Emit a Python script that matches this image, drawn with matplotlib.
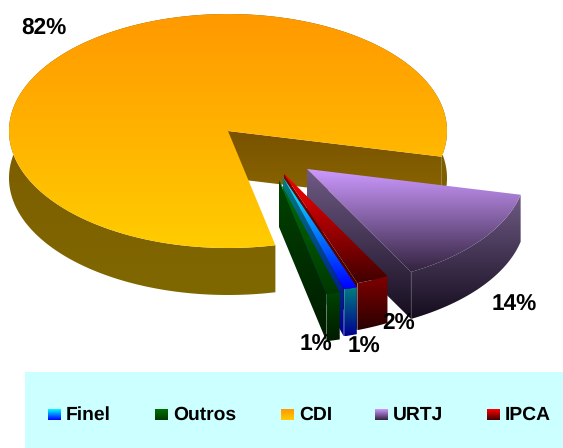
import numpy as np
import matplotlib
matplotlib.use("Agg")
import matplotlib.pyplot as plt
from matplotlib.patches import PathPatch, Rectangle
from matplotlib.path import Path
from matplotlib.colors import to_rgb

plt.rcParams['font.family'] = ['Liberation Sans', 'DejaVu Sans']
plt.rcParams['text.hinting'] = 'no_hinting'

# data, in counter-clockwise order around the pie, starting with CDI
names = ["CDI", "Outros", "Finel", "IPCA", "URTJ"]
shares = [82.0, 1.0, 1.0, 2.4, 13.6]
label_text = ["82%", "1%", "1%", "2%", "14%"]
legend_order = ["Finel", "Outros", "CDI", "URTJ", "IPCA"]

# pie geometry (pixels)
CX, CY, RX, RY, DEPTH = 228, 131, 219, 117, 47
START = -12.7
OFFSET = {"CDI": (0, 0), "URTJ": (79, 38), "IPCA": (55.5, 42), "Finel": (55, 46), "Outros": (51, 49)}

# gradients: (top colour, bottom colour)
TOP = {"CDI": ("#ff9900", "#ffcc00"), "URTJ": ("#cc99ff", "#33233f"), "IPCA": ("#ff0000", "#400000"),
       "Finel": ("#00ffff", "#0000ff"), "Outros": ("#007000", "#003800")}
WALL = {"CDI": ("#7a5400", "#806800"), "URTJ": ("#6f5a85", "#150d1e"), "IPCA": ("#800000", "#2a0000"),
        "Finel": ("#008080", "#000090"), "Outros": ("#004400", "#001a00")}
CDI_FACE = ("#7a5200", "#8a6800")

fig = plt.figure(figsize=(5.63, 4.48), dpi=100, facecolor="white")
ax = fig.add_axes([0, 0, 1, 1])
z = [1]


def grad_fill(points, colours):
    pts = np.asarray(points, float)
    x0, y0 = pts.min(axis=0)
    x1, y1 = pts.max(axis=0)
    c0, c1 = (np.array(to_rgb(c)) for c in colours)
    f = np.linspace(0, 1, 64)[:, None, None]
    img = c0[None, None, :] * (1 - f) + c1[None, None, :] * f
    z[0] += 1
    im = ax.imshow(img, extent=(x0, x1, y1, y0), aspect="auto", interpolation="bilinear", zorder=z[0])
    patch = PathPatch(Path(np.vstack([pts, pts[:1]]), closed=True), transform=ax.transData, fc="none", ec="none")
    ax.add_patch(patch)
    im.set_clip_path(patch)


def arc(cx, cy, t0, t1):
    t = np.radians(np.linspace(t0, t1, max(int(abs(t1 - t0) * 2), 2)))
    return np.column_stack([cx + RX * np.cos(t), cy - RY * np.sin(t)])


def draw_slice(name, t0, t1):
    dx, dy = OFFSET[name]
    cx, cy = CX + dx, CY + dy
    down = np.array([0, DEPTH])
    apex = np.array([[cx, cy]])
    rim = arc(cx, cy, t0, t1)
    face_end = rim[:1]
    face_colour = CDI_FACE if name == "CDI" else WALL[name]
    grad_fill(np.vstack([apex, face_end, face_end + down, apex + down]), face_colour)
    grad_fill(np.vstack([rim, rim[::-1] + down]), WALL[name])
    grad_fill(np.vstack([apex, rim]), TOP[name])
    if name != "CDI":
        z[0] += 1
        ax.plot([face_end[0, 0]] * 2, [face_end[0, 1], face_end[0, 1] + DEPTH], color="white",
                alpha=0.25, lw=0.6, zorder=z[0])


spans = np.array(shares) / sum(shares) * 360
edges = START + np.concatenate([[0], np.cumsum(spans)])
angle = {nm: (edges[i], edges[i + 1]) for i, nm in enumerate(names)}

# paint from back to front
for nm in ["CDI", "URTJ", "IPCA", "Finel", "Outros"]:
    draw_slice(nm, *angle[nm])

# data labels
label_xy = {"CDI": (43.5, 28), "URTJ": (514.5, 304), "IPCA": (399, 323), "Outros": (316, 344), "Finel": (364, 346)}
for nm, txt in zip(names, label_text):
    ax.text(*label_xy[nm], txt, fontsize=16.3, fontweight="bold", color="black", ha="center", va="center", zorder=500)

# legend
ax.add_patch(Rectangle((25, 372), 538, 76, fc="#ccffff", ec="none", zorder=400))
swatch_x = {"Finel": 48, "Outros": 155, "CDI": 281, "URTJ": 375, "IPCA": 487}
z[0] = 401
for nm in legend_order:
    x = swatch_x[nm]
    grad_fill([(x, 409), (x + 13, 409), (x + 13, 420), (x, 420)], TOP[nm])
    ax.text(x + 18, 415, nm, fontsize=13.9, fontweight="bold", color="black", ha="left", va="center", zorder=500)

ax.set_xlim(0, 563)
ax.set_ylim(448, 0)
ax.axis("off")
fig.savefig("out.png", dpi=100, facecolor="white")
